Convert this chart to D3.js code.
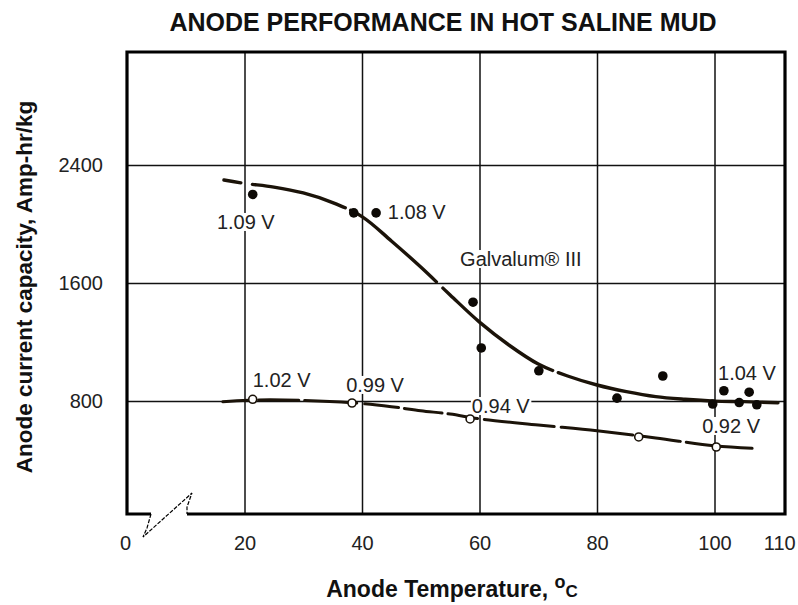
<!DOCTYPE html>
<html>
<head>
<meta charset="utf-8">
<script src="https://cdn.jsdelivr.net/npm/d3@7"></script>
<style>
  body { margin: 0; background: #fff; }
  svg { display: block; font-family: "Liberation Sans", Arial, sans-serif; }
</style>
</head>
<body>
<svg width="798" height="605"></svg>
<script>
// Galvalum III measured points (filled dots)
const galvalumTemp = [21.4, 38.6, 42.4, 58.9, 60.3, 70.1, 83.4, 91.2, 99.7, 101.6, 104.2, 105.9, 107.2];
const galvalumCap = [2200, 2075, 2075, 1470, 1160, 1005, 820, 970, 780, 870, 790, 860, 775];

// hand drawn trend through the Galvalum points
const galvalumCurveTemp = [16.5, 20, 25, 30, 35, 40, 45, 50, 55, 60, 65, 70, 75, 80, 85, 90, 95, 100, 105, 110.8];
const galvalumCurveCap = [2298, 2275, 2250, 2210, 2145, 2050, 1885, 1708, 1519, 1335, 1180, 1051, 970, 909, 864, 830, 812, 800, 796, 789];

// second alloy (open circles)
const otherTemp = [21.4, 38.3, 58.4, 87.1, 100.3];
const otherCap = [812, 787, 679, 557, 489];

const otherCurveTemp = [16.3, 21.4, 30, 38.3, 45, 50, 55, 60, 70, 80, 90, 100, 106.4];
const otherCurveCap = [796, 807, 805, 789, 762, 735, 712, 680, 638, 599, 550, 497, 480];

// potential annotations: text, temperature and capacity at the text start / baseline
const noteText = ["1.09 V", "1.08 V", "1.02 V", "0.99 V", "0.94 V", "1.04 V", "0.92 V", "Galvalum\u00AE III"];
const noteTemp = [15.3, 44.4, 21.4, 37.3, 58.7, 100.6, 97.9, 56.7];
const noteCap = [1966, 2034, 895, 862, 719, 943, 584, 1715];

const xTicks = [0, 20, 40, 60, 80, 100, 110];
const xGrid = [20, 40, 60, 80, 100];
const yTicks = [800, 1600, 2400];

const title = "ANODE PERFORMANCE IN HOT SALINE MUD";
const yTitle = "Anode current capacity, Amp-hr/kg";

const W = 798, H = 605;
const margin = {top: 52, right: 13, bottom: 91, left: 127};
const inkColor = "#1b1309";

const svg = d3.select("svg");

const x = d3.scaleLinear().domain([0, 112]).range([margin.left, W - margin.right]);
const y = d3.scaleLinear().domain([35, 3165]).range([H - margin.bottom, margin.top]);

const plotLeft = x.range()[0], plotRight = x.range()[1];
const plotTop = y.range()[1], plotBottom = y.range()[0];

// grid lines
svg.append("g")
    .attr("transform", `translate(0,${plotBottom})`)
    .call(d3.axisBottom(x).tickValues(xGrid).tickSize(-(plotBottom - plotTop)).tickFormat(""))
    .call(g => g.select(".domain").remove())
    .call(g => g.selectAll("line").attr("stroke", "#111").attr("stroke-width", 1.5));

svg.append("g")
    .attr("transform", `translate(${plotLeft},0)`)
    .call(d3.axisLeft(y).tickValues(yTicks).tickFormat(d3.format("d")).tickSize(-(plotRight - plotLeft)).tickPadding(24))
    .call(g => g.select(".domain").remove())
    .call(g => g.selectAll("line").attr("stroke", "#111").attr("stroke-width", 1.5))
    .call(g => g.selectAll("text")
        .attr("font-size", 20)
        .attr("fill", "#222")
        .attr("font-family", "'Liberation Sans', Arial, sans-serif"));

// x tick labels
svg.append("g")
    .attr("transform", `translate(0,${plotBottom})`)
    .call(d3.axisBottom(x).tickValues(xTicks).tickSize(0).tickPadding(22))
    .call(g => g.select(".domain").remove())
    .call(g => g.selectAll("text")
        .attr("font-size", 20)
        .attr("fill", "#222")
        .attr("font-family", "'Liberation Sans', Arial, sans-serif")
        .attr("dx", d => d === 110 ? 6 : (d === 0 ? -2 : 0)));

// annotations with white backing that cuts the grid
const notes = svg.append("g");
noteText.forEach((t, i) => {
    const g = notes.append("g");
    const txt = g.append("text")
        .attr("x", x(noteTemp[i]))
        .attr("y", y(noteCap[i]))
        .attr("font-size", 20)
        .attr("fill", "#222")
        .text(t);
    const bb = txt.node().getBBox();
    g.insert("rect", "text")
        .attr("x", bb.x - 1)
        .attr("y", bb.y + 2)
        .attr("width", bb.width + 2)
        .attr("height", bb.height - 4)
        .attr("fill", "#fff");
});

// frame, with the broken axis near the origin
const frame = svg.append("g").attr("fill", "none").attr("stroke", "#000");
frame.append("path")
    .attr("stroke-width", 3.2)
    .attr("d", `M${plotLeft + 24},${plotBottom} L${plotLeft},${plotBottom} L${plotLeft},${plotTop} L${plotRight},${plotTop} L${plotRight},${plotBottom} L${plotLeft + 60},${plotBottom}`);
frame.append("path")
    .attr("stroke-width", 1.2)
    .attr("stroke-dasharray", "4,1.5")
    .attr("d", `M${plotLeft + 24},${plotBottom} L${plotLeft + 20},${plotBottom + 14} L${plotLeft + 16},${plotBottom + 23} L${plotLeft + 65},${plotBottom - 21} L${plotLeft + 60},${plotBottom - 7} L${plotLeft + 60},${plotBottom}`);

// trend lines
const line = d3.line()
    .x(d => x(d[0]))
    .y(d => y(d[1]))
    .curve(d3.curveCatmullRom.alpha(0.5));

svg.append("path")
    .datum(d3.zip(galvalumCurveTemp, galvalumCurveCap))
    .attr("fill", "none")
    .attr("stroke", inkColor)
    .attr("stroke-width", 3.4)
    .attr("stroke-linecap", "round")
    .attr("stroke-dasharray", "17,12,96,6,112,9,138,6,1000")
    .attr("d", line);

svg.append("path")
    .datum(d3.zip(otherCurveTemp, otherCurveCap))
    .attr("fill", "none")
    .attr("stroke", inkColor)
    .attr("stroke-width", 3)
    .attr("stroke-linecap", "round")
    .attr("stroke-dasharray", "26,10,40,6,52,8,34,6,38,6,30,7,70,7,72,8,40,6,1000")
    .attr("d", line);

// points
svg.append("g")
    .selectAll("circle")
    .data(d3.zip(galvalumTemp, galvalumCap))
    .join("circle")
    .attr("cx", d => x(d[0]))
    .attr("cy", d => y(d[1]))
    .attr("r", 4.8)
    .attr("fill", "#0d0905");

svg.append("g")
    .selectAll("circle")
    .data(d3.zip(otherTemp, otherCap))
    .join("circle")
    .attr("cx", d => x(d[0]))
    .attr("cy", d => y(d[1]))
    .attr("r", 4)
    .attr("fill", "#fff")
    .attr("stroke", inkColor)
    .attr("stroke-width", 1.6);

// titles
svg.append("text")
    .attr("x", 443)
    .attr("y", 31)
    .attr("text-anchor", "middle")
    .attr("font-size", 25)
    .attr("font-weight", "bold")
    .attr("fill", "#111")
    .text(title);

svg.append("text")
    .attr("transform", `translate(32,${(plotTop + plotBottom) / 2 + 4}) rotate(-90)`)
    .attr("text-anchor", "middle")
    .attr("font-size", 22.5)
    .attr("font-weight", "bold")
    .attr("fill", "#111")
    .text(yTitle);

const xt = svg.append("text")
    .attr("x", (plotLeft + plotRight) / 2 - 4)
    .attr("y", 597)
    .attr("text-anchor", "middle")
    .attr("font-size", 23)
    .attr("font-weight", "bold")
    .attr("fill", "#111");
xt.append("tspan").text("Anode Temperature, ");
xt.append("tspan").attr("font-size", 18).attr("dy", -9).text("o");
xt.append("tspan").attr("font-size", 17).attr("dy", 9).text("C");
</script>
</body>
</html>
